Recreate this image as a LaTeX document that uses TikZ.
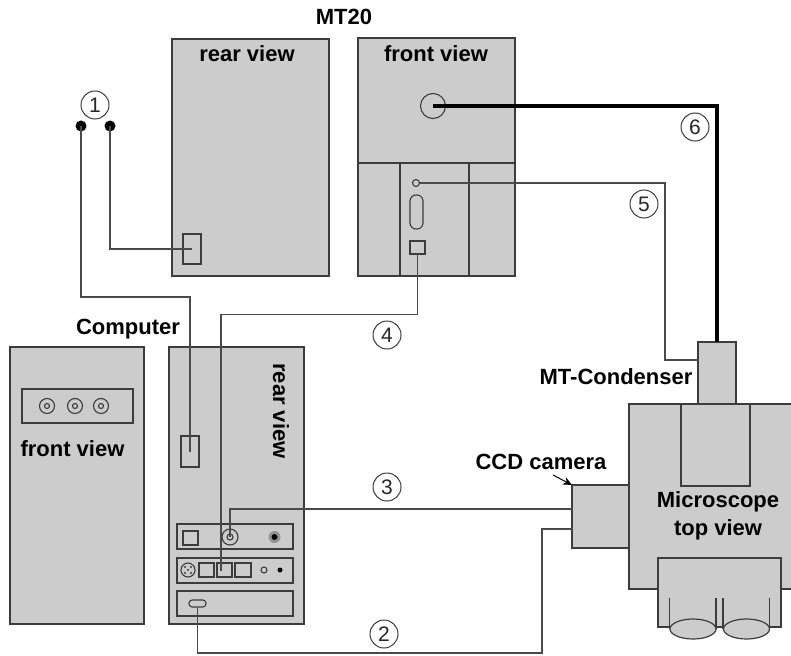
\documentclass[tikz,border=0pt]{standalone}
\usepackage{fontspec}
\setmainfont{Liberation Sans}
\usetikzlibrary{shapes.geometric,arrows.meta}
\definecolor{panelgray}{HTML}{CCCCCC}
\definecolor{edgegray}{HTML}{3C3C3C}
\definecolor{wiregray}{HTML}{4A4A4A}
\newcommand{\rbx}[6][]{%
  \pgfmathsetmacro{\rw}{#5-#3}\pgfmathsetmacro{\rh}{#6-#4}%
  \pgfmathsetmacro{\rx}{(#3+#5)/2}\pgfmathsetmacro{\ry}{(#4+#6)/2}%
  \node[box,minimum width=\rw pt,minimum height=\rh pt,#1] (#2) at (\rx,\ry) {};}
\tikzset{
  box/.style={draw=edgegray,fill=panelgray,line width=1.3pt,rectangle,inner sep=0pt,outer sep=0pt},
  thinbox/.style={line width=1.1pt},
  ring/.style={circle,draw=edgegray,fill=panelgray,line width=1.1pt,inner sep=0pt,outer sep=0pt,minimum size=#1},
  dotblk/.style={circle,fill=black,inner sep=0pt,outer sep=0pt,minimum size=#1},
  oblong/.style={rounded corners=6pt},
  flatoblong/.style={rounded corners=3.2pt},
  wire/.style={draw=wiregray,line width=1.4pt,line join=miter},
  heavy/.style={draw=black,line width=4pt,line join=miter},
  title/.style={font=\fontsize{22}{26}\selectfont\bfseries,text=black,inner sep=0pt},
  num/.style={circle,draw=edgegray,line width=1pt,minimum size=28pt,inner sep=0pt,font=\fontsize{21}{25}\selectfont,text=black!85},
  eye/.style={ellipse,draw=edgegray,fill=panelgray,line width=1.2pt,minimum width=46pt,minimum height=20pt,inner sep=0pt,outer sep=0pt}
}
\begin{document}
\begin{tikzpicture}[x=1pt,y=-1pt]
\useasboundingbox (0,0) rectangle (791,655);
% MT20
\rbx{mtrear}{172}{39}{329}{276}
\rbx{mtfront}{358}{38}{515}{276}
\draw[box] (358,163) -- (515,163);
\draw[box] (400,163) -- (400,276);
\draw[box] (469,163) -- (469,276);
\rbx[thinbox]{mtport}{183}{234}{201}{264}
\node[ring=25pt] (mtcirc) at (433,106) {};
\node[ring=7pt] (mtsmall) at (416,183) {};
\rbx[thinbox,oblong]{mtoblong}{410}{195}{423}{229}
\rbx[thinbox]{mtusb}{410}{241}{425}{254}
% Computer front
\rbx{cfront}{10}{347}{144}{624}
\rbx{cfpanel}{22}{389}{133}{423}
\foreach \n/\x in {a/47,b/75,c/101}{
  \node[ring=15pt] (cf\n) at (\x,406) {};
  \node[ring=5pt] (cfi\n) at (\x,406) {};
}
% Computer rear
\rbx{crear}{169}{347}{304}{624}
\rbx[thinbox]{crport}{181}{436}{199}{467}
\rbx{pone}{177}{524}{293}{549}
\rbx{ptwo}{177}{558}{293}{583}
\rbx{pthree}{177}{591}{293}{616}
\rbx[thinbox]{ponesq}{183}{531}{198}{545}
\node[ring=16pt] (coax) at (230,537) {};
\node[ring=6pt] (coaxi) at (230,537) {};
\node[circle,fill=gray!85,inner sep=0pt,minimum size=12pt] (rca) at (274.5,537) {};
\node[dotblk=6pt] (rcai) at (274.5,537) {};
\node[ring=14pt] (din) at (188,570) {};
\foreach \a/\b in {185/567,191/567,185/573,191/573,188/570}{\fill[edgegray] (\a,\b) circle (1.1pt);}
\rbx[thinbox]{sqa}{199}{563}{214}{577}
\rbx[thinbox]{sqb}{217}{563}{232}{577}
\rbx[thinbox]{sqc}{235}{563}{251}{577}
\node[ring=6pt] (jack) at (264,570) {};
\node[dotblk=5pt] (jackb) at (280,570) {};
\rbx[thinbox,flatoblong]{vga}{189}{600}{206}{607}
% Microscope
\node[rectangle,fill=panelgray,inner sep=0pt,outer sep=0pt,minimum width=162pt,minimum height=185pt] (scope) at (710,496.5) {};
\draw[draw=edgegray,line width=1.3pt] (scope.north east) -- (scope.north west) -- (scope.south west) -- (scope.south east);
\rbx{cond}{698}{342}{736}{404}
\rbx{scinner}{681}{404}{750}{486}
\rbx{camera}{572}{485}{629}{548}
\rbx{eyebox}{658}{558}{781}{627}
\draw[draw=edgegray,line width=1.2pt] (669.5,598) -- (669.5,629) (716,598) -- (716,629) (723,598) -- (723,629) (769.5,598) -- (769.5,629);
\node[eye] (eyea) at (693,629) {};
\node[eye] (eyeb) at (746.5,629) {};
% Free ends and bends
\node[dotblk=11pt] (dotl) at (81,126) {};
\node[dotblk=11pt] (dotr) at (110,126) {};
\coordinate (bendone) at (0,297);
\coordinate (bendfour) at (0,314.5);
\coordinate (endfour) at (221,571);
\coordinate (bendthree) at (0,509);
\coordinate (bendtwoa) at (197.5,653);
\coordinate (bendtwob) at (542,653);
\coordinate (camtwo) at (572,529);
\coordinate (bendfive) at (665,360);
\coordinate (arrowstart) at (553,475);
% Connectors
\draw[wire] (dotr.center) |- (mtport.center);
\draw[wire] (dotl.center) -- (dotl.center |- bendone) -- (crport.center |- bendone) -- (crport.center);
\draw[wire] (vga.south) -- (bendtwoa) -- (bendtwob) |- (camtwo);
\draw[wire] (coax.center) -- (coax.center |- bendthree) -- (camera.west |- bendthree);
\draw[wire] (mtusb.south) -- (mtusb.south |- bendfour) -- (endfour |- bendfour) -- (endfour);
\draw[wire,line width=1.2pt] (mtsmall.east) -| (bendfive) -- (cond.west |- bendfive);
\draw[heavy] (mtcirc.center) -| (cond.north);
\draw[-{Stealth[length=9pt,width=8pt]},line width=1pt,black] (arrowstart) -- (camera.north west);
% Numbers
\node[num] (none) at (95,105) {1};
\node[num] (ntwo) at (384,634) {2};
\node[num] (nthree) at (387,487) {3};
\node[num] (nfour) at (387,335) {4};
\node[num] (nfive) at (644,204) {5};
\node[num] (nsix) at (695,127) {6};
% Labels
\node[title] (lmt) at (344,17) {MT20};
\node[title] (lrear) at (247,54) {rear view};
\node[title] (lfront) at (436,54) {front view};
\node[title] (lcomp) at (128,329) {Computer};
\node[title] (lcf) at (72.5,449) {front view};
\node[title,rotate=-90] (lcr) at (281,411) {rear view};
\node[title] (lcond) at (616,377) {MT-Condenser};
\node[title] (lccd) at (541,462) {CCD camera};
\node[title] (lmic) at (718,502) {Microscope};
\node[title] (ltop) at (718,530) {top view};
\end{tikzpicture}
\end{document}
